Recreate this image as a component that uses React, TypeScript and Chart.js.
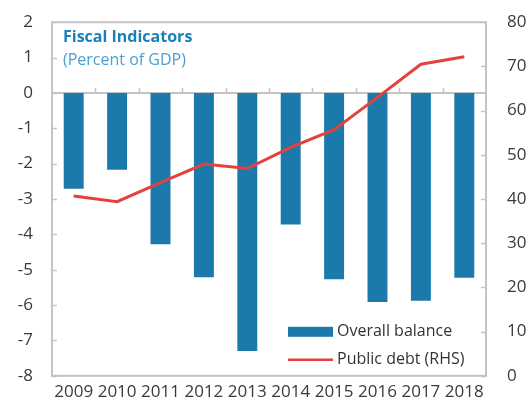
import React, { useEffect, useRef } from "react";
import { Chart, registerables } from "chart.js";

Chart.register(...registerables);

const categories = ["2009", "2010", "2011", "2012", "2013", "2014", "2015", "2016", "2017", "2018"];
const overallBalance = [-2.71, -2.17, -4.28, -5.21, -7.3, -3.72, -5.27, -5.91, -5.88, -5.23];
const publicDebt = [40.7, 39.4, 43.7, 47.9, 46.9, 51.7, 55.7, 63.0, 70.5, 72.2];
const titleText = "Fiscal Indicators";
const subtitleText = "(Percent of GDP)";
const leftRange = { min: -8, max: 2, step: 1 };
const rightRange = { min: 0, max: 80, step: 10 };

const FONT = "'Open Sans', 'Noto Sans', sans-serif";
const BAR_COLOR = "#1b7aab";
const LINE_COLOR = "#e2423b";
const FRAME_COLOR = "#c4c4c4";
const CANVAS_SHIFT = 9;

const framePlugin = {
  id: "frameAndExtras",
  beforeDatasetsDraw(chart: any) {
    const { ctx, chartArea } = chart;
    const { left, right, top, bottom } = chartArea;
    const yL = chart.scales.yL;
    const yR = chart.scales.yR;
    const x = chart.scales.x;
    ctx.save();
    ctx.strokeStyle = FRAME_COLOR;
    ctx.lineWidth = 2;
    ctx.strokeRect(left, top, right - left, bottom - top);
    ctx.lineWidth = 1.5;
    for (let v = leftRange.min; v <= leftRange.max; v += leftRange.step) {
      const py = Math.round(yL.getPixelForValue(v)) + 0.5;
      ctx.beginPath();
      ctx.moveTo(left, py);
      ctx.lineTo(left + 5, py);
      ctx.stroke();
    }
    for (let v = rightRange.min; v <= rightRange.max; v += rightRange.step) {
      const py = Math.round(yR.getPixelForValue(v)) + 0.5;
      ctx.beginPath();
      ctx.moveTo(right - 5, py);
      ctx.lineTo(right, py);
      ctx.stroke();
    }
    const zy = Math.round(yL.getPixelForValue(0));
    ctx.lineWidth = 2;
    ctx.beginPath();
    ctx.moveTo(left, zy);
    ctx.lineTo(right, zy);
    ctx.stroke();
    ctx.lineWidth = 1.5;
    for (let i = 1; i < categories.length; i++) {
      const bx = Math.round((x.getPixelForValue(i - 1) + x.getPixelForValue(i)) / 2) + 0.5;
      ctx.beginPath();
      ctx.moveTo(bx, zy);
      ctx.lineTo(bx, zy - 5);
      ctx.stroke();
    }
    ctx.textAlign = "left";
    ctx.textBaseline = "alphabetic";
    ctx.fillStyle = "#1a80b9";
    ctx.font = `bold 16px ${FONT}`;
    ctx.fillText(titleText, left + 11, top + 20);
    ctx.fillStyle = "#4aa0d2";
    ctx.font = `16px ${FONT}`;
    ctx.fillText(subtitleText, left + 11, top + 43);
    ctx.restore();
  },
  afterDatasetsDraw(chart: any) {
    const { ctx, chartArea } = chart;
    const ds = chart.data.datasets;
    const lx = chartArea.right - 198;
    const row1 = chartArea.bottom - 44;
    const row2 = chartArea.bottom - 16;
    ctx.save();
    const bar = ds.find((d: any) => d.type === "bar");
    const line = ds.find((d: any) => d.type === "line");
    ctx.fillStyle = bar.backgroundColor;
    ctx.fillRect(lx, row1 - 5, 45, 10);
    ctx.strokeStyle = line.borderColor;
    ctx.lineWidth = 2.5;
    ctx.beginPath();
    ctx.moveTo(lx, row2);
    ctx.lineTo(lx + 45, row2);
    ctx.stroke();
    ctx.fillStyle = "#333333";
    ctx.font = `16px ${FONT}`;
    ctx.textBaseline = "middle";
    ctx.textAlign = "left";
    ctx.fillText(bar.label, lx + 49, row1);
    ctx.fillText(line.label, lx + 49, row2);
    ctx.restore();
  },
};

export default function App() {
  const ref = useRef<HTMLCanvasElement>(null);
  useEffect(() => {
    document.body.style.margin = "0";
    const tickFont = { family: FONT, size: 17 };
    const chart = new Chart(ref.current as HTMLCanvasElement, {
      type: "bar",
      data: {
        labels: categories,
        datasets: [
          {
            type: "line",
            label: "Public debt (RHS)",
            data: publicDebt,
            yAxisID: "yR",
            borderColor: LINE_COLOR,
            backgroundColor: LINE_COLOR,
            borderWidth: 3,
            pointRadius: 0,
            tension: 0,
            order: 0,
          },
          {
            type: "bar",
            label: "Overall balance",
            data: overallBalance,
            yAxisID: "yL",
            backgroundColor: BAR_COLOR,
            borderWidth: 0,
            categoryPercentage: 1,
            barPercentage: 0.46,
            order: 1,
          },
        ] as any,
      },
      options: {
        animation: false,
        responsive: false,
        layout: { padding: 0 },
        plugins: { legend: { display: false }, tooltip: { enabled: false } },
        scales: {
          x: {
            grid: { display: false, drawTicks: false },
            border: { display: false },
            ticks: { font: tickFont, color: "#3a3a3a", padding: 6, maxRotation: 0, autoSkip: false },
            afterFit: (s: any) => { s.height = 31; },
          },
          yL: {
            position: "left",
            min: leftRange.min,
            max: leftRange.max,
            grid: { display: false, drawTicks: false },
            border: { display: false },
            ticks: { stepSize: leftRange.step, font: tickFont, color: "#3a3a3a", padding: 19 },
            afterFit: (s: any) => { s.width = 52; },
          },
          yR: {
            position: "right",
            min: rightRange.min,
            max: rightRange.max,
            grid: { display: false, drawTicks: false },
            border: { display: false },
            ticks: { stepSize: rightRange.step, font: tickFont, color: "#3a3a3a", padding: 21 },
            afterFit: (s: any) => { s.width = 43; },
          },
        },
      } as any,
      plugins: [framePlugin],
    });
    return () => chart.destroy();
  }, []);
  return (
    <div style={{ position: "fixed", left: 0, top: 0, width: 529, height: 407, overflow: "hidden" }}>
      <canvas
        ref={ref}
        width={529}
        height={407 + CANVAS_SHIFT}
        style={{ position: "absolute", left: 0, top: -CANVAS_SHIFT }}
      />
    </div>
  );
}
